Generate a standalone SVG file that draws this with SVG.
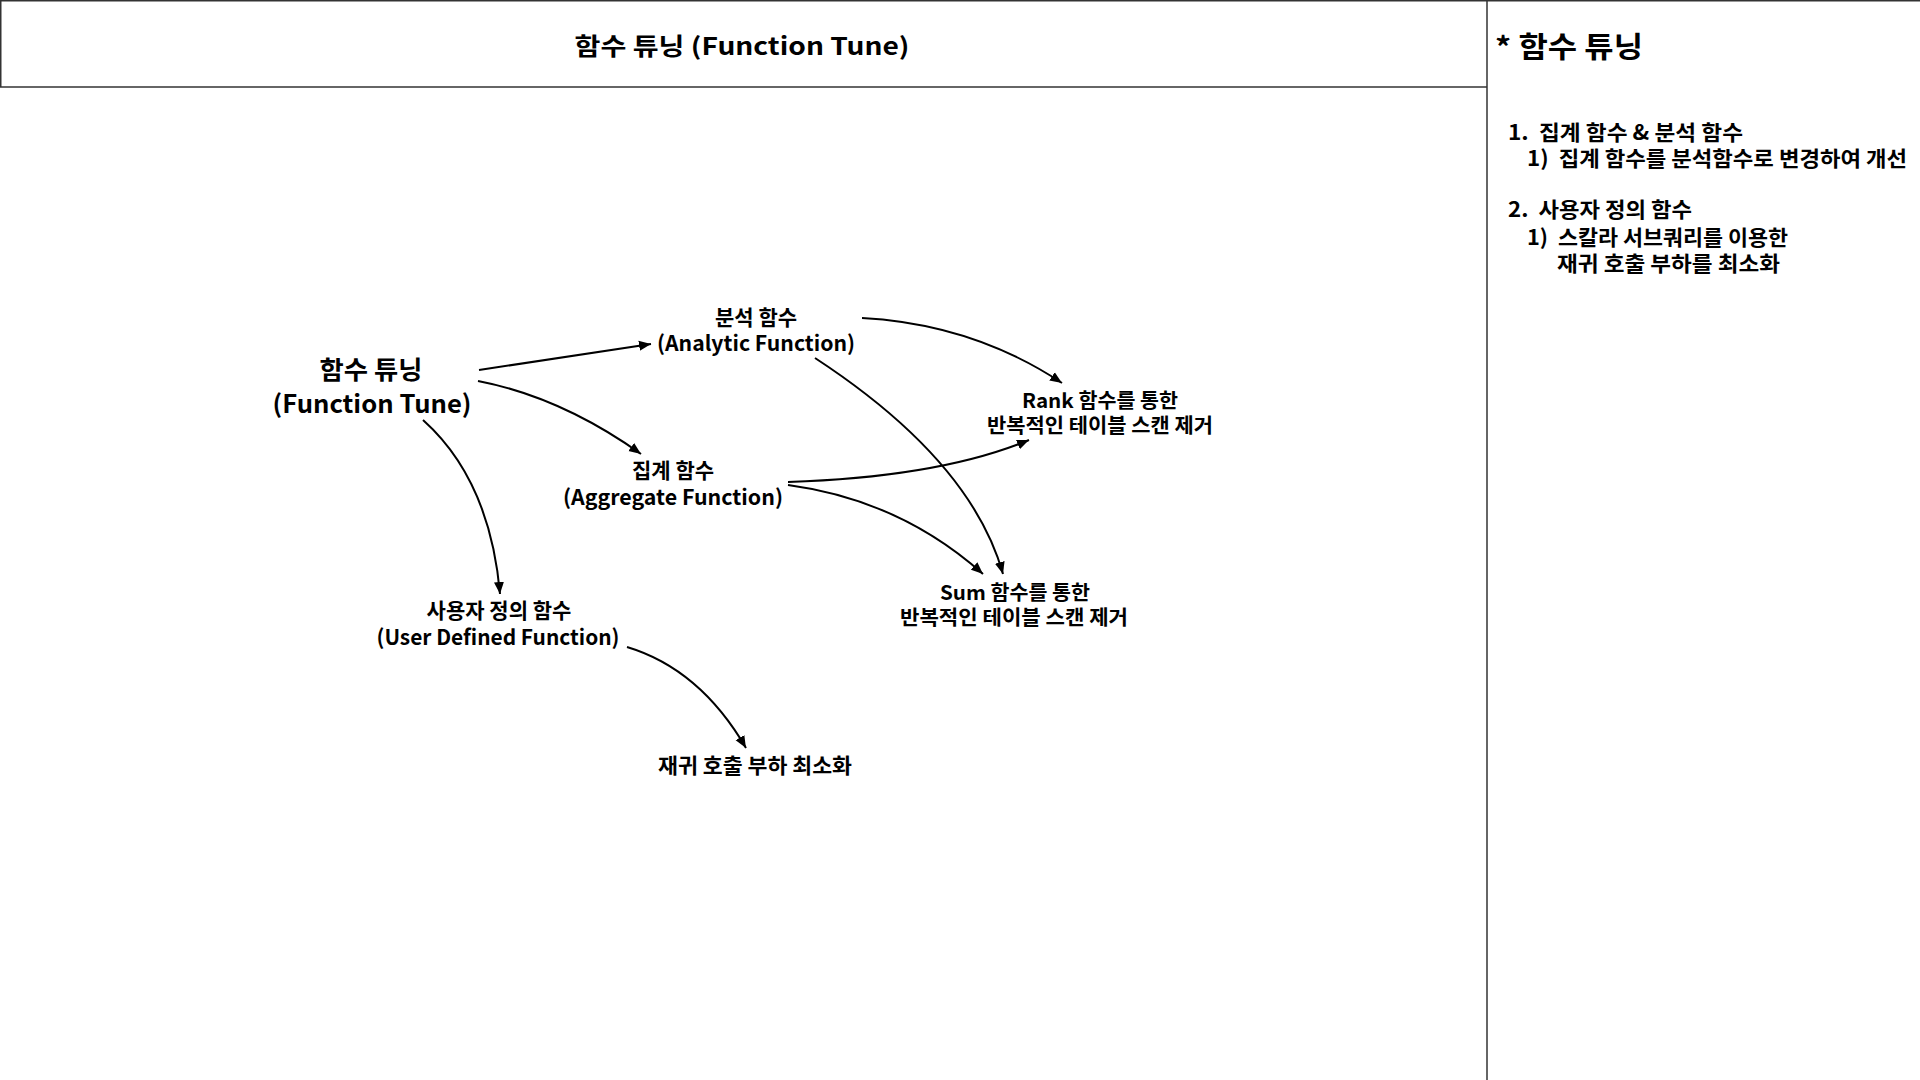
<svg xmlns="http://www.w3.org/2000/svg" width="1920" height="1080" viewBox="0 0 1920 1080">
  <style>
    text { font-family: "Noto Sans CJK KR", "Noto Sans", sans-serif; font-weight: 700; fill: #000; dominant-baseline: central; }
    .c { text-anchor: middle; }
    .l { text-anchor: start; }
    .body { font-size: 21px; }
    .tight { font-size: 20px; }
    .root { font-size: 25px; }
    .title { font-size: 24px; }
    .side { font-size: 21px; }
    .sidehead { font-size: 29px; }
    .frame { fill: none; stroke: #333; stroke-width: 1.5; }
    .edge { fill: none; stroke: #000; stroke-width: 2; marker-end: url(#arrow); }
  </style>
  <defs>
    <marker id="arrow" markerUnits="userSpaceOnUse" markerWidth="13" markerHeight="11" refX="12" refY="5.5" orient="auto">
      <path d="M0,0.5 L12,5.5 L0,10.5 z" fill="#000"/>
    </marker>
  </defs>
  <rect width="1920" height="1080" fill="#fff"/>

  <g id="frame">
    <line class="frame" x1="0" y1="0.75" x2="1920" y2="0.75"/>
    <line class="frame" x1="0.75" y1="0" x2="0.75" y2="87"/>
    <line class="frame" x1="0" y1="87" x2="1487" y2="87"/>
    <line class="frame" x1="1487" y1="0" x2="1487" y2="1080"/>
  </g>

  <g id="header">
    <text class="title c" x="742" y="44" textLength="335" lengthAdjust="spacingAndGlyphs">함수 튜닝 (Function Tune)</text>
  </g>

  <g id="side-panel">
    <text class="sidehead l" x="1495" y="45" textLength="148" lengthAdjust="spacingAndGlyphs">* 함수 튜닝</text>
    <text class="side l" x="1508" y="131" textLength="235" lengthAdjust="spacingAndGlyphs" xml:space="preserve">1.  집계 함수 &amp; 분석 함수</text>
    <text class="side l" x="1527" y="157" textLength="380" lengthAdjust="spacingAndGlyphs" xml:space="preserve">1)  집계 함수를 분석함수로 변경하여 개선</text>
    <text class="side l" x="1508" y="208" textLength="184" lengthAdjust="spacingAndGlyphs" xml:space="preserve">2.  사용자 정의 함수</text>
    <text class="side l" x="1527" y="236" textLength="261" lengthAdjust="spacingAndGlyphs" xml:space="preserve">1)  스칼라 서브쿼리를 이용한</text>
    <text class="side l" x="1557" y="262" textLength="223" lengthAdjust="spacingAndGlyphs">재귀 호출 부하를 최소화</text>
  </g>

  <g id="edges">
    <path class="edge" d="M479,370 L651,344"/>
    <path class="edge" d="M478,381 Q561,397 641,454"/>
    <path class="edge" d="M423,420 Q490,480 500,594"/>
    <path class="edge" d="M862,318 Q973,324 1062,383"/>
    <path class="edge" d="M815,358 Q971,460 1003,574"/>
    <path class="edge" d="M788,482 Q940,477 1029,440"/>
    <path class="edge" d="M788,485 Q900,500 983,574"/>
    <path class="edge" d="M627,647 Q700,669 746,748"/>
  </g>

  <g id="node-root">
    <text class="root c" x="371" y="368" textLength="103" lengthAdjust="spacingAndGlyphs">함수 튜닝</text>
    <text class="root c" x="372" y="402" textLength="199" lengthAdjust="spacingAndGlyphs">(Function Tune)</text>
  </g>

  <g id="node-analytic">
    <text class="body c" x="756" y="316">분석 함수</text>
    <text class="body c" x="756" y="342" textLength="198" lengthAdjust="spacingAndGlyphs">(Analytic Function)</text>
  </g>

  <g id="node-aggregate">
    <text class="body c" x="673" y="469">집계 함수</text>
    <text class="body c" x="673" y="496" textLength="220" lengthAdjust="spacingAndGlyphs">(Aggregate Function)</text>
  </g>

  <g id="node-udf">
    <text class="body c" x="499" y="609">사용자 정의 함수</text>
    <text class="body c" x="498" y="636" textLength="243" lengthAdjust="spacingAndGlyphs">(User Defined Function)</text>
  </g>

  <g id="node-recursion">
    <text class="body c" x="755" y="764" textLength="194" lengthAdjust="spacingAndGlyphs">재귀 호출 부하 최소화</text>
  </g>

  <g id="node-rank">
    <text class="tight c" x="1100" y="399" textLength="156" lengthAdjust="spacingAndGlyphs">Rank 함수를 통한</text>
    <text class="tight c" x="1100" y="424" textLength="226" lengthAdjust="spacingAndGlyphs">반복적인 테이블 스캔 제거</text>
  </g>

  <g id="node-sum">
    <text class="tight c" x="1015" y="591" textLength="150" lengthAdjust="spacingAndGlyphs">Sum 함수를 통한</text>
    <text class="tight c" x="1014" y="616" textLength="228" lengthAdjust="spacingAndGlyphs">반복적인 테이블 스캔 제거</text>
  </g>
</svg>
